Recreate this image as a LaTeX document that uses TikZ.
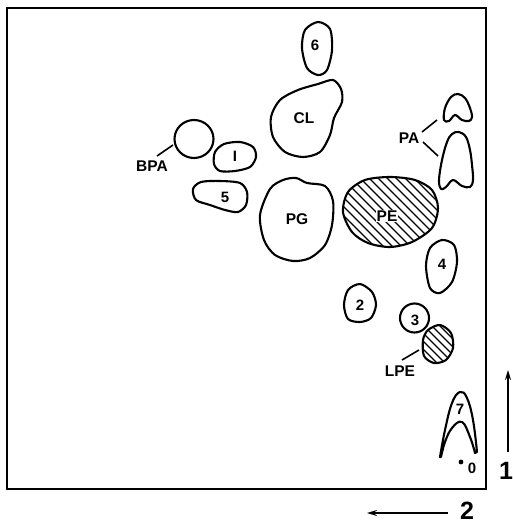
\documentclass[tikz,border=0pt]{standalone}
\usepackage{fontspec}
\setmainfont{Liberation Sans}
\usetikzlibrary{arrows.meta}
\begin{document}
\begin{tikzpicture}[x=1pt,y=-1pt,
  blob/.style={line width=2.1pt, line join=round},
  lbl/.style={font=\bfseries\fontsize{15.5}{15.5}\selectfont, inner sep=0.5pt},
  slbl/.style={font=\bfseries\fontsize{15}{15}\selectfont, inner sep=0.5pt},
  lead/.style={line width=1.6pt},
  hatch/.style={line width=1.2pt},
  axis/.style={line width=1.9pt, -{Stealth[length=10pt,width=6pt]}},
  big/.style={font=\bfseries\fontsize{25}{25}\selectfont, inner sep=0pt}]
\useasboundingbox (0,0) rectangle (513,524);
% frame
\draw[line width=1.9pt] (7,8) rectangle (486,489);

% 6
\draw[blob] plot[smooth cycle] coordinates {(305,30) (318,22) (330,29) (332,50) (327,70) (318,75) (307,68) (302,48)};
\node[slbl] (n6) at (315,45) {6};
% CL
\draw[blob] plot[smooth cycle] coordinates {(298,90) (318,84) (333,80) (341,89) (342,102) (334,118) (330,135) (320,152) (303,157) (285,152) (273,137) (271,117) (280,100)};
\node[lbl] (cl) at (304,118) {CL};
% BPA circle
\draw[blob] (194,139) circle[x radius=19.5, y radius=19];
\coordinate (bpac) at (173,145);
\node[lbl] (bpa) at (152,166) {BPA};
\draw[lead] (157,156) -- (bpac);
% 1
\draw[blob] plot[smooth cycle] coordinates {(214,164) (215,152) (224,144) (240,142) (253,147) (256,157) (250,167) (235,171) (220,171)};
\node[slbl] (n1) at (235,156) {I};
% 5
\draw[blob] plot[smooth cycle] coordinates {(193,189) (201,182) (220,181) (240,183) (247,192) (246,205) (238,212) (225,210) (210,205) (196,200)};
\node[slbl] (n5) at (225,197) {5};
% PG
\draw[blob] plot[smooth cycle] coordinates {(270,189) (283,180) (296,178) (307,183) (325,186) (333,201) (332,225) (325,245) (310,258) (293,261) (275,255) (264,240) (260,215)};
\node[lbl] (pg) at (297,219) {PG};
% PE (hatched)
\begin{scope}
\clip plot[smooth cycle] coordinates {(348,192) (365,180) (390,177) (415,180) (432,190) (438,208) (432,228) (412,242) (390,247) (368,243) (352,232) (343,212)};
\foreach \i in {-140,-131,...,140} \draw[hatch] (390+\i-80,212-80) -- (390+\i+80,212+80);
\end{scope}
\draw[blob] plot[smooth cycle] coordinates {(348,192) (365,180) (390,177) (415,180) (432,190) (438,208) (432,228) (412,242) (390,247) (368,243) (352,232) (343,212)};
\node[lbl, fill=white] (pe) at (387,216) {PE};
% PA shapes
\draw[blob] plot[smooth cycle, tension=0.6] coordinates {(458,94) (465,98) (470,108) (472,117) (469,121) (462,120) (455,115) (449,121) (444,120) (445,108) (451,97)};
\draw[blob] plot[smooth cycle, tension=0.6] coordinates {(459,132) (466,137) (470,150) (472,165) (473,180) (470,187) (462,186) (453,180) (446,187) (441,189) (439,180) (442,160) (447,142) (452,134)};
\node[lbl] (pa) at (409,138) {PA};
\coordinate (pa1) at (437,120);
\coordinate (pa2) at (438,156);
\draw[lead] (422,132) -- (pa1);
\draw[lead] (423,142) -- (pa2);
% 4
\draw[blob] plot[smooth cycle] coordinates {(430,248) (442,240) (454,245) (457,262) (452,282) (440,293) (430,288) (426,266)};
\node[slbl] (n4) at (442,264) {4};
% 2
\draw[blob] plot[smooth cycle] coordinates {(348,290) (360,284) (372,292) (376,305) (371,318) (360,322) (348,319) (344,305)};
\node[slbl] (n2) at (360,305) {2};
% 3
\draw[blob] (414.5,318) circle[radius=14.5];
\node[slbl] (n3) at (415,320) {3};
% LPE (hatched)
\begin{scope}
\clip plot[smooth cycle] coordinates {(428,330) (440,325) (451,333) (453,348) (446,360) (434,363) (424,356) (423,340)};
\foreach \i in {-60,-52,...,60} \draw[hatch] (438+\i-40,344-40) -- (438+\i+40,344+40);
\end{scope}
\draw[blob] plot[smooth cycle] coordinates {(428,330) (440,325) (451,333) (453,348) (446,360) (434,363) (424,356) (423,340)};
\node[lbl] (lpe) at (400,371) {LPE};
\coordinate (lpec) at (419,350);
\draw[lead] (402,360) -- (lpec);
% 7
\draw[blob] plot[smooth, tension=0.7] coordinates {(440,457) (445,430) (452,403) (460,392) (467,398) (473,420) (477,452)}
  -- plot[smooth, tension=0.7] coordinates {(475,453) (470,437) (462,422) (452,428) (445,442) (441,457)} -- cycle;
\node[slbl] (n7) at (460,409) {7};
\fill (461,462) circle[radius=2.4];
\node[slbl] (n0) at (472,468) {0};
% axes
\coordinate (a1s) at (508,452);
\coordinate (a1e) at (508,370);
\draw[axis] (a1s) -- (a1e);
\node[big] (l1) at (506,471) {1};
\coordinate (a2s) at (448,513);
\coordinate (a2e) at (367,513);
\draw[axis] (a2s) -- (a2e);
\node[big] (l2) at (467,511) {2};
\end{tikzpicture}
\end{document}
